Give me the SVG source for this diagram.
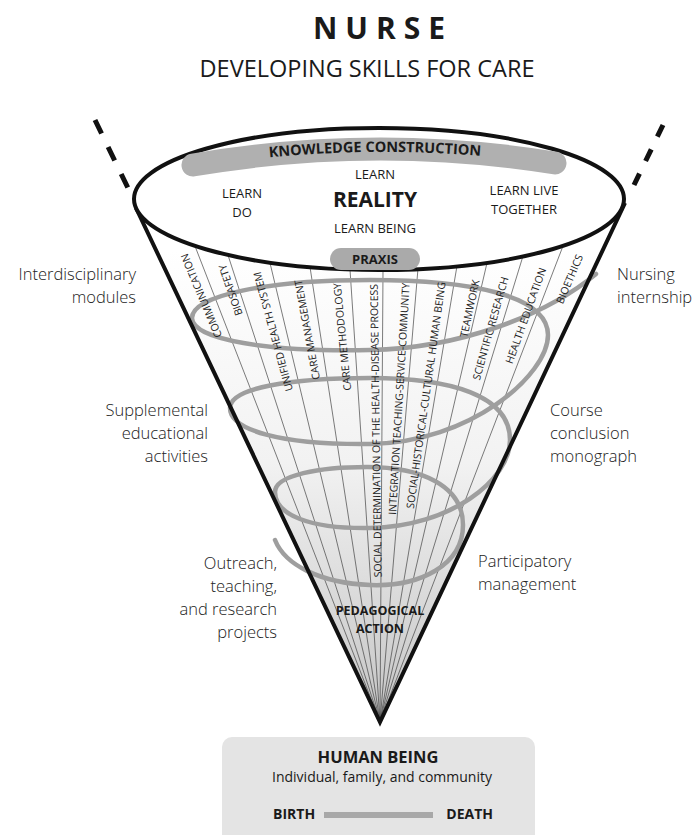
<svg xmlns="http://www.w3.org/2000/svg" width="693" height="835" viewBox="0 0 693 835">
<defs>
<style>
text{font-family:"Open Sans","Liberation Sans",sans-serif;fill:#1a1a1a}
.b{font-weight:bold}
.side{font-size:16.5px;fill:#222;font-weight:300}
.lab{font-size:10.5px;text-anchor:end;fill:#222}
.ray{stroke:#444;stroke-width:0.7;fill:none}
.spiral{stroke:#9e9e9e;stroke-width:4.5;fill:none;stroke-linecap:round}
.thick{stroke:#111;stroke-width:4;fill:none}
.c{text-anchor:middle}
.r{text-anchor:end}
</style>
<linearGradient id="coneFill" gradientUnits="userSpaceOnUse" x1="0" y1="250" x2="0" y2="722">
<stop offset="0" stop-color="#ffffff"/>
<stop offset="0.45" stop-color="#f2f2f2"/>
<stop offset="1" stop-color="#c4c4c4"/>
</linearGradient>
<path id="kcArc" d="M 228,162 Q 375,143 522,160"/>
</defs>

<g id="title">
<text x="383" y="39" class="c b" font-size="30" letter-spacing="8">NURSE</text>
<text x="367" y="77" class="c" font-size="23.5">DEVELOPING SKILLS FOR CARE</text>
</g>

<g id="cone">
<polygon points="136,208 380,722 625,203" fill="url(#coneFill)"/>
<g id="rays">
<line class="ray" x1="380" y1="722" x2="189.4" y2="231.7"/>
<line class="ray" x1="380" y1="722" x2="223.4" y2="241"/>
<line class="ray" x1="380" y1="722" x2="266.7" y2="249.2"/>
<line class="ray" x1="380" y1="722" x2="307.9" y2="253.3"/>
<line class="ray" x1="380" y1="722" x2="349.1" y2="255.9"/>
<line class="ray" x1="380" y1="722" x2="383.1" y2="256.4"/>
<line class="ray" x1="380" y1="722" x2="419.1" y2="255.4"/>
<line class="ray" x1="380" y1="722" x2="459.3" y2="252.3"/>
<line class="ray" x1="380" y1="722" x2="490.2" y2="249.2"/>
<line class="ray" x1="380" y1="722" x2="527.3" y2="242"/>
<line class="ray" x1="380" y1="722" x2="568.5" y2="231.7"/>
</g>
<path id="spiral" class="spiral" d="M 596,274 C 545,316 460,348 370,350 C 270,352 192,340 192,318 C 192,295 270,280 370,280 C 470,280 548,295 548,335 C 548,375 470,443 370,444 C 280,445 230,430 230,408 C 230,388 290,378 370,378 C 450,378 510,395 510,440 C 510,480 450,527 370,528 C 310,529 275,515 275,492 C 275,475 320,467 367,467 C 420,467 463,485 463,525 C 463,565 420,587 370,585 C 320,583 285,565 275,540"/>
<g id="labels">
<text class="lab" transform="translate(184,254) rotate(-112.73)" dy="0.35em">COMMUNICATION</text>
<text class="lab" transform="translate(222,265) rotate(-109.07)" dy="0.35em">BIOSAFETY</text>
<text class="lab" transform="translate(257,272) rotate(-105.29)" dy="0.35em">UNIFIED HEALTH SYSTEM</text>
<text class="lab" transform="translate(298,280) rotate(-100.51)" dy="0.35em">CARE MANAGEMENT</text>
<text class="lab" transform="translate(337,283) rotate(-95.59)" dy="0.35em">CARE METHODOLOGY</text>
<text class="lab" transform="translate(374,284) rotate(-90.78)" dy="0.35em">SOCIAL DETERMINATION OF THE HEALTH-DISEASE PROCESS</text>
<text class="lab" transform="translate(406,283) rotate(-86.61)" dy="0.35em">INTEGRATION TEACHING-SERVICE-COMMUNITY</text>
<text class="lab" transform="translate(442,282) rotate(-81.98)" dy="0.35em">SOCIAL-HISTORICAL-CULTURAL HUMAN BEING</text>
<text class="lab" transform="translate(476,280) rotate(-77.75)" dy="0.35em">TEAMWORK</text>
<text class="lab" transform="translate(505,277) rotate(-74.31)" dy="0.35em">SCIENTIFIC RESEARCH</text>
<text class="lab" transform="translate(543,268) rotate(-70.25)" dy="0.35em">HEALTH EDUCATION</text>
<text class="lab" transform="translate(580,255) rotate(-66.82)" dy="0.35em">BIOETHICS</text>
</g>
<polyline class="thick" points="136,208 380,722 625,203" stroke-linejoin="miter"/>
<line x1="95" y1="120" x2="128" y2="188" stroke="#111" stroke-width="5" stroke-dasharray="15 15"/>
<line x1="663" y1="125" x2="634" y2="185" stroke="#111" stroke-width="5" stroke-dasharray="13 14"/>
</g>

<g id="top-ellipse">
<ellipse cx="379" cy="199" rx="245" ry="71" fill="#ffffff" stroke="#111" stroke-width="4"/>
<path d="M 193,165 Q 375,134 555,163" stroke="#b0b0b0" stroke-width="23" stroke-linecap="round" fill="none"/>
<text class="b" font-size="14.5"><textPath href="#kcArc" startOffset="50%" text-anchor="middle">KNOWLEDGE CONSTRUCTION</textPath></text>
<text x="375" y="179" class="c" font-size="13">LEARN</text>
<text x="375" y="207" class="c b" font-size="21">REALITY</text>
<text x="375" y="233" class="c" font-size="13">LEARN BEING</text>
<text x="242" y="198" class="c" font-size="13">LEARN</text>
<text x="242" y="217" class="c" font-size="13">DO</text>
<text x="524" y="195" class="c" font-size="13">LEARN LIVE</text>
<text x="524" y="214" class="c" font-size="13">TOGETHER</text>
</g>

<g id="praxis">
<rect x="330" y="248" width="90" height="22" rx="11" fill="#aaaaaa"/>
<text x="375" y="264" class="c b" font-size="13">PRAXIS</text>
</g>

<g id="pedagogical">
<text x="380" y="615" class="c b" font-size="12.5">PEDAGOGICAL</text>
<text x="380" y="633" class="c b" font-size="12.5">ACTION</text>
</g>

<g id="left-labels">
<text class="side r" x="136" y="280">Interdisciplinary</text>
<text class="side r" x="136" y="303">modules</text>
<text class="side r" x="208" y="416">Supplemental</text>
<text class="side r" x="208" y="439">educational</text>
<text class="side r" x="208" y="462">activities</text>
<text class="side r" x="277" y="569">Outreach,</text>
<text class="side r" x="277" y="592">teaching,</text>
<text class="side r" x="277" y="615">and research</text>
<text class="side r" x="277" y="638">projects</text>
</g>

<g id="right-labels">
<text class="side" x="617" y="280">Nursing</text>
<text class="side" x="617" y="303">internship</text>
<text class="side" x="550" y="416">Course</text>
<text class="side" x="550" y="439">conclusion</text>
<text class="side" x="550" y="462">monograph</text>
<text class="side" x="478" y="567">Participatory</text>
<text class="side" x="478" y="590">management</text>
</g>

<g id="human-being">
<rect x="222" y="737" width="313" height="110" rx="10" fill="#e4e4e4"/>
<text x="378" y="763" class="c b" font-size="16.5">HUMAN BEING</text>
<text x="382" y="782" class="c" font-size="14">Individual, family, and community</text>
<text x="273" y="819" class="b" font-size="14">BIRTH</text>
<rect x="324" y="812" width="109" height="6" fill="#a8a8a8"/>
<text x="493" y="819" class="b r" font-size="14">DEATH</text>
</g>
</svg>
